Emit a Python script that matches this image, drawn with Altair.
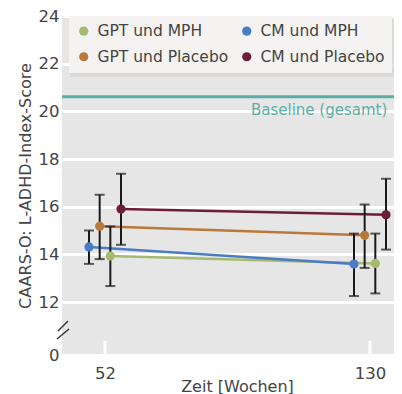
import altair as alt
import pandas as pd

groups = ["GPT und MPH", "GPT und Placebo", "CM und MPH", "CM und Placebo"]
colors = ["#a5b96f", "#b8793a", "#4a7cc5", "#6b1d3c"]
weeks = [52, 130]
mean_52 = [13.93, 15.18, 14.31, 15.90]
low_52 = [12.67, 13.80, 13.60, 14.40]
high_52 = [15.17, 16.50, 15.00, 17.38]
mean_130 = [13.62, 14.80, 13.59, 15.66]
low_130 = [12.36, 13.43, 12.25, 14.20]
high_130 = [14.87, 16.09, 14.87, 17.17]
baseline = 20.61
y_ticks = [0, 12, 14, 16, 18, 20, 22, 24]

# dodge order at each time point (left to right) and spacing in weeks
dodge_order = ["CM und MPH", "GPT und Placebo", "GPT und MPH", "CM und Placebo"]
dodge_step = 3.14

rows = []
for i, g in enumerate(groups):
    off = (dodge_order.index(g) - 1.5) * dodge_step
    rows.append({"group": g, "week": 52, "xp": 52 + off, "mean": mean_52[i], "lo": low_52[i], "hi": high_52[i]})
    rows.append({"group": g, "week": 130, "xp": 130 + off, "mean": mean_130[i], "lo": low_130[i], "hi": high_130[i]})
df = pd.DataFrame(rows)

W, H = 332, 339
FONT = "DejaVu Sans"
TXT = "#444444"

legend_order = ["GPT und MPH", "CM und MPH", "GPT und Placebo", "CM und Placebo"]
legend_colors = [colors[groups.index(g)] for g in legend_order]

xscale = alt.Scale(domain=[39.34, 137.07], nice=False, zero=False)
yscale = alt.Scale(domain=[0, 12, 24], range=[H, 286, 0], nice=False, zero=False)

x_enc = alt.X("xp:Q", scale=xscale,
              axis=alt.Axis(values=weeks, title="Zeit [Wochen]", grid=False, ticks=False, domain=False,
                            labelFontSize=16.5, labelColor=TXT, labelPadding=10, labelFont=FONT,
                            titleFont=FONT, titleFontSize=16, titleFontWeight="normal", titleColor=TXT,
                            titleX=175, titleY=36, titleAlign="center", titleBaseline="alphabetic",
                            titleAnchor="start"))
y_enc = alt.Y("mean:Q", scale=yscale,
              axis=alt.Axis(values=y_ticks, title="CAARS-O: L-ADHD-Index-Score", grid=True, gridColor="white",
                            gridWidth=3, ticks=False, domain=False, labelFontSize=16.5, labelColor=TXT,
                            labelFont=FONT, labelPadding=3, titleFont=FONT, titleFontSize=16,
                            titleFontWeight="normal", titleColor=TXT, titlePadding=5))
color_enc = alt.Color("group:N", scale=alt.Scale(domain=legend_order, range=legend_colors),
                      legend=alt.Legend(title=None, orient="none", legendX=7, legendY=0, columns=2,
                                        direction="horizontal", fillColor="#f4f3f2", padding=7,
                                        symbolType="circle", symbolSize=85, symbolStrokeWidth=0,
                                        labelFontSize=15.5, labelFont=FONT, labelColor=TXT,
                                        labelOffset=6, columnPadding=10, rowPadding=9,
                                        symbolOpacity=1, labelLimit=300))

base = alt.Chart(df)

shadow = alt.Chart(pd.DataFrame({"a": [1]})).mark_rect(color="#d4d4d4", opacity=0.7).encode(
    x=alt.value(8), x2=alt.value(W), y=alt.value(3), y2=alt.value(61))

bl_df = pd.DataFrame({"v": [baseline], "label": ["Baseline (gesamt)"]})
bl_rule = alt.Chart(bl_df).mark_rule(color="#5aaea6", strokeWidth=3).encode(
    y=alt.Y("v:Q", scale=yscale))
bl_text = alt.Chart(bl_df).mark_text(color="#5aaea6", align="left", baseline="middle", dy=13,
                                      fontSize=15, font=FONT).encode(
    x=alt.value(189), y=alt.Y("v:Q", scale=yscale), text="label:N")

tick_df = pd.DataFrame({"week": weeks})
xticks = alt.Chart(tick_df).mark_rule(color="white", strokeWidth=3).encode(
    x=alt.X("week:Q", scale=xscale), y=alt.value(H - 14), y2=alt.value(H))

lines = base.mark_line(strokeWidth=2.5).encode(x=x_enc, y=y_enc, color=color_enc, detail="group:N")
bars = base.mark_rule(color="#1a1a1a", strokeWidth=2).encode(
    x=alt.X("xp:Q", scale=xscale), y=alt.Y("lo:Q", scale=yscale), y2="hi:Q")
cap_lo = base.mark_tick(color="#1a1a1a", orient="horizontal", size=10, thickness=2).encode(
    x=alt.X("xp:Q", scale=xscale), y=alt.Y("lo:Q", scale=yscale))
cap_hi = base.mark_tick(color="#1a1a1a", orient="horizontal", size=10, thickness=2).encode(
    x=alt.X("xp:Q", scale=xscale), y=alt.Y("hi:Q", scale=yscale))
points = base.mark_circle(size=85, opacity=1).encode(
    x=alt.X("xp:Q", scale=xscale), y=alt.Y("mean:Q", scale=yscale),
    color=alt.Color("group:N", scale=alt.Scale(domain=legend_order, range=legend_colors)))

brk_df = pd.DataFrame({"a": [1]})
brk1 = alt.Chart(brk_df).mark_rule(color="#333333", strokeWidth=1.5).encode(
    x=alt.value(-4), x2=alt.value(6), y=alt.value(315), y2=alt.value(305))
brk2 = alt.Chart(brk_df).mark_rule(color="#333333", strokeWidth=1.5).encode(
    x=alt.value(-5), x2=alt.value(7), y=alt.value(323), y2=alt.value(313))

chart = alt.layer(shadow, bl_rule, bl_text, xticks, lines, bars, cap_lo, cap_hi, points, brk1, brk2).properties(
    width=W, height=H,
    autosize=alt.AutoSizeParams(type="none"),
    padding={"left": 54, "top": 8, "right": 0, "bottom": 39},
    background="white",
).configure_view(fill="#e6e6e6", stroke=None)

chart.save("out.html", embed_options={"renderer": "svg", "actions": False})
